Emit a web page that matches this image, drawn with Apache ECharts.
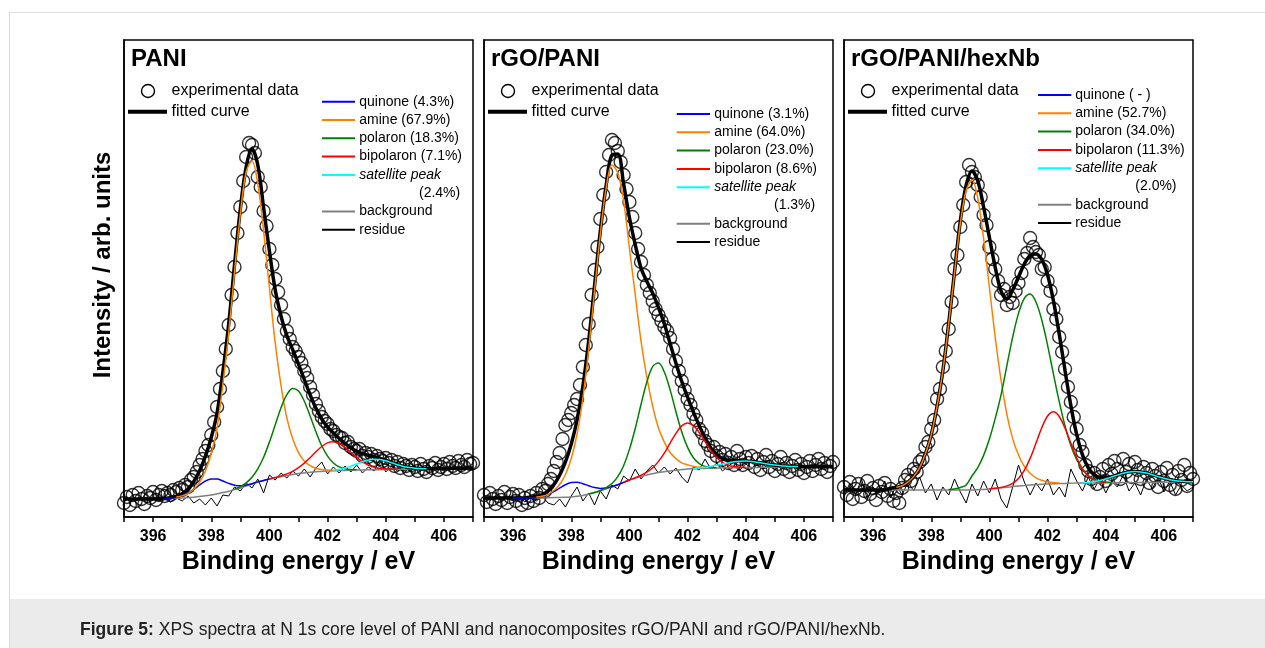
<!DOCTYPE html>
<html><head><meta charset="utf-8">
<script src="https://cdn.jsdelivr.net/npm/echarts@6/dist/echarts.min.js"></script>
<style>html,body{margin:0;padding:0;background:#fff;}#chart{width:1265px;height:648px;}</style>
</head><body><div id="chart"></div>
<script>
// ---------- DATA (intensity in arbitrary units, binding energy in eV) ----------
const energyFine = [
395.0,395.1,395.2,395.3,395.4,395.5,395.6,395.7,395.8,395.9,
396.0,396.1,396.2,396.3,396.4,396.5,396.6,396.7,396.8,396.9,
397.0,397.1,397.2,397.3,397.4,397.5,397.6,397.7,397.8,397.9,
398.0,398.1,398.2,398.3,398.4,398.5,398.6,398.7,398.8,398.9,
399.0,399.1,399.2,399.3,399.4,399.5,399.6,399.7,399.8,399.9,
400.0,400.1,400.2,400.3,400.4,400.5,400.6,400.7,400.8,400.9,
401.0,401.1,401.2,401.3,401.4,401.5,401.6,401.7,401.8,401.9,
402.0,402.1,402.2,402.3,402.4,402.5,402.6,402.7,402.8,402.9,
403.0,403.1,403.2,403.3,403.4,403.5,403.6,403.7,403.8,403.9,
404.0,404.1,404.2,404.3,404.4,404.5,404.6,404.7,404.8,404.9,
405.0,405.1,405.2,405.3,405.4,405.5,405.6,405.7,405.8,405.9,
406.0,406.1,406.2,406.3,406.4,406.5,406.6,406.7,406.8,406.9,
407.0];
const energyGrid = [
395.0,395.2,395.4,395.6,395.8,396.0,396.2,396.4,396.6,396.8,
397.0,397.2,397.4,397.6,397.8,398.0,398.2,398.4,398.6,398.8,
399.0,399.2,399.4,399.6,399.8,400.0,400.2,400.4,400.6,400.8,
401.0,401.2,401.4,401.6,401.8,402.0,402.2,402.4,402.6,402.8,
403.0,403.2,403.4,403.6,403.8,404.0,404.2,404.4,404.6,404.8,
405.0,405.2,405.4,405.6,405.8,406.0,406.2,406.4,406.6,406.8,407.0];
const xTickValues = [396, 398, 400, 402, 404, 406];

// ---- PANI ----
const paniExp = [
14,20,12,22,16,24,18,13,21,19,
25,17,22,26,21,24,22,27,25,29,
27,32,30,37,40,45,52,58,66,72,
82,95,110,128,146,168,192,222,250,284,
310,336,360,374,372,364,340,330,306,291,
268,252,238,225,212,198,186,178,170,166,
160,154,146,139,130,122,113,106,100,96,
93,88,86,82,80,79,74,75,70,68,
66,68,61,64,60,63,57,61,58,56,
59,54,57,51,55,49,53,51,47,52,
50,46,53,48,45,51,49,54,47,50,
53,48,55,51,49,56,52,50,57,53,
54];
const paniFit = [
18,18,18,18,18,18,18.2,18.5,19.5,20.8,
23.3,27.8,35.6,46.2,60.8,79.5,104,145,193,252,
308,350,368,352,309.3,266,227.1,200.8,181.3,167.4,
152.9,137.5,122.2,108.7,97.9,89.9,84,78.5,73.7,69.3,
65.6,63.3,61.7,60.3,58.7,56.7,54.5,52.3,50.6,49.5,
48.8,48.4,48.2,48.3,48.4,48.5,48.6,48.7,48.8,48.9,49];
const paniBackground = [
18,18,18,18,18,18,18.2,18.4,18.6,18.8,
19,19.4,19.8,20.4,21.2,22,23.2,24.4,25.8,27.4,
29,31,33,35,36.5,38,39.2,40.4,41.5,42.5,
43.5,44.1,44.7,45.2,45.6,46,46.2,46.4,46.6,46.8,
47,47.1,47.2,47.3,47.4,47.5,47.6,47.7,47.8,47.9,
48,48.1,48.2,48.3,48.4,48.5,48.6,48.7,48.8,48.9,49];
const paniResidue = [
17,19,16,20,17,19,16,20,15,19,
16,21,14,18,12,19,11,22,21,30,
26,34,29,38,24,42,37,44,39,46,
41,48,40,49,55,43,50,44,51,45,
52,44,50,46,58,45,51,46,50,47,
51,46,50,47,51,48,51,47,50,48,50];
const paniQuinone = [
null,null,null,null,null,null,null,18.5,18.9,19.7,
21.2,23.8,27.6,32,36,38,38,36,33.6,31.8,
31.2,31.9,33.3,35.1,36.6,38,null,null,null,null,
null,null,null,null,null,null,null,null,null,null,
null,null,null,null,null,null,null,null,null,null,
null,null,null,null,null,null,null,null,null,null,null];
const paniAmine = [
null,null,null,null,null,null,null,null,null,19.9,
21.1,23.4,27.8,34.6,46,63.5,89.2,133,184,245,
303,345,356,333.2,286.1,229,173.8,131.2,98.8,78.2,
64.4,56,51.3,48.7,47.4,46.9,46.6,null,null,null,
null,null,null,null,null,null,null,null,null,null,
null,null,null,null,null,null,null,null,null,null,null];
const paniPolaron = [
null,null,null,null,null,null,null,null,null,null,
null,null,null,null,null,null,null,null,null,27.9,
30.3,34.2,39.8,48.2,59.7,74.9,92.2,109.3,122.4,128.5,
126.1,115.8,101,85.2,71.2,60.9,54,50.1,48.2,47.4,
47.2,null,null,null,null,null,null,null,null,null,
null,null,null,null,null,null,null,null,null,null,null];
const paniBipolaron = [
null,null,null,null,null,null,null,null,null,null,
null,null,null,null,null,null,null,null,null,null,
null,null,null,null,null,38.1,39.5,41.1,43.1,45.7,
49.4,53.9,59.3,65.2,70.5,74.1,75.2,73.5,69.7,64.7,
59.6,55.2,51.9,49.8,48.6,48,47.8,47.7,null,null,
null,null,null,null,null,null,null,null,null,null,null];
const paniSatellite = [
null,null,null,null,null,null,null,null,null,null,
null,null,null,null,null,null,null,null,null,null,
null,null,null,null,null,null,null,null,null,null,
null,null,null,null,null,null,46.8,47.7,49,50.8,
53,55.2,57,57.8,57.5,56.2,54.3,52.3,50.6,49.5,
48.8,48.4,48.2,null,null,null,null,null,null,null,null];
const paniLegend = ['quinone (4.3%)','amine (67.9%)','polaron (18.3%)','bipolaron (7.1%)','satellite peak','(2.4%)','background','residue'];

// ---- rGO/PANI ----
const rgoExp = [
22,15,24,18,13,21,17,25,14,20,
23,16,22,12,19,14,21,16,24,19,
28,26,33,38,46,55,64,78,92,97,
104,112,118,132,150,172,193,222,247,270,
298,322,345,362,377,374,366,355,342,328,
315,300,284,268,255,242,232,224,216,208,
202,196,190,186,179,168,156,146,136,127,
118,112,103,97,88,84,76,72,66,70,
61,65,57,63,54,60,52,66,58,52,
60,54,61,50,58,47,55,62,50,56,
46,53,60,48,54,45,51,57,47,53,
44,50,56,46,52,58,48,54,45,51,
55];
const rgoFit = [
19,19,19,19,19,19,19,19.1,19.8,20.5,
22.3,25.9,32.4,41.8,55,73,97,130.7,176.3,231.1,
286.1,331.5,362,363,333.1,299.5,272.4,248.9,235.4,223.8,
209.4,193.2,173.3,153.8,135.5,119.8,104.9,91.4,79.1,69.1,
62.4,58.4,56.7,56.3,56.2,56.1,55.6,54.7,53.8,52.8,
52,51.2,50.8,50.5,50.4,50.2,50.3,50.3,50.4,50.4,50.5];
const rgoBackground = [
19,19,19,19,19,19,19,19,19,19,
19,19.2,19.4,19.6,19.8,20,20.8,21.6,23,24.4,
26,28,30,32.2,34.6,37,38.8,40.6,42,43.3,
44.5,45.3,46.1,46.8,47.4,48,48.2,48.4,48.6,48.8,
49,49.1,49.2,49.3,49.4,49.5,49.6,49.6,49.7,49.8,
50,50,50.1,50.1,50.2,50.2,50.3,50.3,50.4,50.4,50.5];
const rgoResidue = [
20,17,21,16,20,18,22,15,19,16,
21,14,12,18,10,21,30,16,24,12,
26,18,32,28,41,36,48,38,46,52,
44,50,43,49,40,34,50,47,58,48,
54,46,51,55,47,53,49,52,48,53,
47,52,49,53,48,51,49,52,48,51,50];
const rgoQuinone = [
null,null,null,null,null,19,19,19.1,19.2,19.6,
20.5,22.4,25.3,28.9,32.3,34.4,34.8,33.3,31.3,29.4,
28.6,29.1,30.4,32.3,34.6,37,null,null,null,null,
null,null,null,null,null,null,null,null,null,null,
null,null,null,null,null,null,null,null,null,null,
null,null,null,null,null,null,null,null,null,null,null];
const rgoAmine = [
null,null,null,null,null,null,null,null,null,19.9,
20.8,22.7,26.5,32.5,42.5,58.5,83,119,168,226,
283,329,352,344.2,316.4,268.8,222.3,175.6,139.6,110.9,
88.9,74.9,64.5,58.4,54.2,52.2,50.5,49.7,49.2,null,
null,null,null,null,null,null,null,null,null,null,
null,null,null,null,null,null,null,null,null,null,null];
const rgoPolaron = [
null,null,null,null,null,null,null,null,null,null,
null,null,null,null,null,null,null,null,23,24.5,
26.5,29.4,33.5,40.3,51.3,67.6,88.5,112.7,135,150.3,
153.9,145,127.1,105.3,85,69.6,59.2,53.4,50.6,49.5,
49.2,null,null,null,null,null,null,null,null,null,
null,null,null,null,null,null,null,null,null,null,null];
const rgoBipolaron = [
null,null,null,null,null,null,null,null,null,null,
null,null,null,null,null,null,null,null,null,null,
null,null,null,null,34.6,37.1,39.2,41.8,44.8,49.2,
55.6,63.9,73.9,83.7,91.1,94,91.3,84.5,75.4,66.6,
59.5,54.6,51.8,50.4,49.8,49.6,null,null,null,null,
null,null,null,null,null,null,null,null,null,null,null];
const rgoSatellite = [
null,null,null,null,null,null,null,null,null,null,
null,null,null,null,null,null,null,null,null,null,
null,null,null,null,null,null,null,null,null,null,
null,null,null,null,null,null,48.5,49,49.7,50.6,
51.7,52.9,54.1,55.2,55.8,56,55.6,54.7,53.8,52.8,
52,51.2,50.8,50.5,50.4,null,null,null,null,null,null];
const rgoLegend = ['quinone (3.1%)','amine (64.0%)','polaron (23.0%)','bipolaron (8.6%)','satellite peak','(1.3%)','background','residue'];

// ---- rGO/PANI/hexNb ----
const hexExp = [
30,22,35,18,28,33,20,26,36,23,
29,17,31,25,34,21,28,16,24,14,
29,37,42,36,48,45,55,58,70,75,
88,97,118,128,150,166,188,215,248,262,
290,312,335,352,345,340,332,320,302,292,
270,258,248,236,222,228,212,220,214,226,
234,244,258,264,279,270,265,262,248,250,
236,226,208,198,180,165,148,130,115,100,
88,72,65,52,46,38,44,33,40,48,
36,52,43,56,48,38,58,45,53,40,
55,47,38,50,44,34,48,41,30,45,
36,49,32,42,28,46,37,52,31,44,
38];
const hexFit = [
27,27,27,27,27,27,27,27,28.6,29.8,
31.3,35,40.6,49.3,63.3,82.2,110.7,146.4,193.7,245.1,
296.1,331.5,346,336,310,279.5,249.7,226,218,227,
240,253,261.4,263.1,257.5,241.9,216.4,183.1,146.4,111.4,
82.6,62.1,49.2,42.4,39.6,39.4,40.3,41.9,43.7,45,
45.5,45.1,43.9,42.2,40.4,38.7,37.3,36.3,35.7,35.3,35.2];
const hexBackground = [
27,27,27,27,27,27,27,27,27,27,
27,27,27,27,27,27,27,27,27,27,
27,27,27,27.3,27.6,28,28.6,29.2,29.8,30.4,
31,31.5,32,32.4,32.8,33,33.2,33.4,33.6,33.8,
34,34,34,34.1,34.1,34.2,34.3,34.3,34.4,34.4,
34.5,34.5,34.6,34.6,34.7,34.7,34.8,34.8,34.9,34.9,35];
const hexResidue = [
20,34,22,38,18,30,24,36,19,32,
22,35,26,40,24,33,17,30,22,38,
25,14,33,21,36,24,38,18,9,30,
52,35,22,34,26,38,22,30,20,48,
36,26,40,28,38,24,36,30,42,26,
34,22,38,28,40,25,36,22,32,26,30];
const hexQuinone = [];
const hexAmine = [
null,null,null,null,null,null,null,null,null,29.8,
31.3,35,40.6,49.3,63.3,82.2,110.7,146.4,193.2,244,
293.6,326.5,337,318.7,278.6,229.5,179.6,136.8,102.7,78.4,
62,50.7,43.8,39.2,36.8,35.2,34.4,34,null,null,
null,null,null,null,null,null,null,null,null,null,
null,null,null,null,null,null,null,null,null,null,null];
const hexPolaron = [
null,null,null,null,null,null,null,null,null,null,
null,null,null,null,null,null,null,null,27.5,28.1,
29.5,32,41,49.3,61.6,78,98.6,122.2,151.4,179.9,
203.6,218.7,223,215,197,171.7,143.2,115.4,91,71.6,
57.3,47.6,41.4,37.9,35.9,35,34.6,null,null,null,
null,null,null,null,null,null,null,null,null,null,null];
const hexBipolaron = [
null,null,null,null,null,null,null,null,null,null,
null,null,null,null,null,null,null,null,null,null,
null,null,null,null,null,28,28.7,29.6,31.1,33.7,
38.5,46.6,58.6,73.7,89.3,101,105.2,100.5,88.7,73.6,
59.3,48.1,41,37.1,35.3,34.6,null,null,null,null,
null,null,null,null,null,null,null,null,null,null,null];
const hexSatellite = [
null,null,null,null,null,null,null,null,null,null,
null,null,null,null,null,null,null,null,null,null,
null,null,null,null,null,null,null,null,null,null,
null,null,null,null,null,null,null,null,null,null,
null,34.4,34.8,35.6,36.6,38.2,40,41.9,43.7,45,
45.5,45.1,43.9,42.2,40.4,38.7,37.3,36.3,35.7,35.3,35.2];
const hexLegend = ['quinone ( - )','amine (52.7%)','polaron (34.0%)','bipolaron (11.3%)','satellite peak','(2.0%)','background','residue'];

const panelTitles = ['PANI', 'rGO/PANI', 'rGO/PANI/hexNb'];
const xAxisTitle = 'Binding energy / eV';
const yAxisTitle = 'Intensity / arb. units';
const legendExp = 'experimental data';
const legendFit = 'fitted curve';
const captionBold = 'Figure 5:';
const captionText = ' XPS spectra at N 1s core level of PANI and nanocomposites rGO/PANI and rGO/PANI/hexNb.';

// ---------- LAYOUT / STYLE ----------
const FONT = '"Liberation Sans", Arial, Helvetica, sans-serif';
const compColors = ['#0000ff', '#ff8000', '#008000', '#ff0000', '#00ffff'];
const bgColor = '#808080';
const layout = [
  {left: 124, legLine: [198, 231], legText: 235.3, pctX: 295, legY0: 101.7},
  {left: 484, legLine: [192.7, 226], legText: 230.3, pctX: 290, legY0: 114},
  {left: 844, legLine: [194, 227.3], legText: 231.3, pctX: 291.3, legY0: 95}
];
const plotTop = 40, plotW = 349, plotH = 477, legStep = 18.3;

const panelData = [
  {exp: paniExp, fit: paniFit, bg: paniBackground, res: paniResidue, comps: [paniQuinone, paniAmine, paniPolaron, paniBipolaron, paniSatellite], legend: paniLegend},
  {exp: rgoExp, fit: rgoFit, bg: rgoBackground, res: rgoResidue, comps: [rgoQuinone, rgoAmine, rgoPolaron, rgoBipolaron, rgoSatellite], legend: rgoLegend},
  {exp: hexExp, fit: hexFit, bg: hexBackground, res: hexResidue, comps: [hexQuinone, hexAmine, hexPolaron, hexBipolaron, hexSatellite], legend: hexLegend}
];

function pairs(xs, ys) {
  const out = [];
  for (let i = 0; i < ys.length; i++) if (ys[i] !== null && ys[i] !== undefined) out.push([xs[i], ys[i]]);
  return out;
}

const grids = [], xAxes = [], yAxes = [], series = [], graphics = [];

// figure frame and caption band
graphics.push({type: 'rect', shape: {x: 9.5, y: 12.5, width: 1270, height: 650}, style: {fill: 'none', stroke: '#dcdcdc', lineWidth: 1}, z: 0});
graphics.push({type: 'rect', shape: {x: 10, y: 599, width: 1260, height: 60}, style: {fill: '#ebebeb'}, z: 0});
graphics.push({type: 'text', x: 80, y: 630, style: {text: '{b|' + captionBold + '}' + captionText, font: '17.5px ' + FONT, fill: '#222', verticalAlign: 'middle', rich: {b: {fontWeight: 'bold', fontSize: 17.5, fontFamily: FONT, fill: '#222'}}}, z: 5});
graphics.push({type: 'text', x: 103, y: 265, rotation: Math.PI / 2, style: {text: yAxisTitle, font: 'bold 24px ' + FONT, fill: '#000', align: 'center', verticalAlign: 'middle'}, z: 5});

panelData.forEach((p, i) => {
  const L = layout[i].left;
  grids.push({left: L, top: plotTop, width: plotW, height: plotH, show: true, borderColor: '#000', borderWidth: 1.5, backgroundColor: 'transparent'});
  xAxes.push({
    gridIndex: i, type: 'value', min: 395, max: 407, interval: 1,
    axisLine: {show: true, onZero: false, lineStyle: {color: '#000', width: 1.5}},
    axisTick: {show: true, length: 5, lineStyle: {color: '#000', width: 1.5}},
    splitLine: {show: false},
    axisLabel: {color: '#000', fontFamily: FONT, fontWeight: 'bold', fontSize: 16, margin: 12,
      formatter: v => (xTickValues.indexOf(v) >= 0 ? String(v) : '')},
    name: xAxisTitle, nameLocation: 'middle', nameGap: 33,
    nameTextStyle: {color: '#000', fontFamily: FONT, fontWeight: 'bold', fontSize: 25}
  });
  yAxes.push({gridIndex: i, type: 'value', min: 0, max: 477,
    axisLine: {show: true, onZero: false, lineStyle: {color: '#000', width: 1.5}},
    axisTick: {show: false}, axisLabel: {show: false}, splitLine: {show: false}});

  series.push({type: 'scatter', xAxisIndex: i, yAxisIndex: i, data: pairs(energyFine, p.exp),
    symbol: 'circle', symbolSize: 13, itemStyle: {color: 'rgba(0,0,0,0)', borderColor: '#000', borderWidth: 1.4}, z: 2, silent: true});
  series.push({type: 'line', xAxisIndex: i, yAxisIndex: i, data: pairs(energyGrid, p.res), showSymbol: false,
    lineStyle: {color: '#000', width: 1}, z: 3, silent: true});
  series.push({type: 'line', xAxisIndex: i, yAxisIndex: i, data: pairs(energyGrid, p.bg), showSymbol: false, smooth: 0.3,
    lineStyle: {color: bgColor, width: 1.5}, z: 3, silent: true});
  series.push({type: 'line', xAxisIndex: i, yAxisIndex: i, data: pairs(energyGrid, p.fit), showSymbol: false, smooth: 0.35,
    lineStyle: {color: '#000', width: 3.5}, z: 4, silent: true});
  p.comps.forEach((c, k) => {
    if (!c.length) return;
    series.push({type: 'line', xAxisIndex: i, yAxisIndex: i, data: pairs(energyGrid, c), showSymbol: false, smooth: 0.35,
      lineStyle: {color: compColors[k], width: 1.5}, z: 5, silent: true});
  });

  // panel title & legends
  graphics.push({type: 'text', x: L + 7, y: 59.5, style: {text: panelTitles[i], font: 'bold 24px ' + FONT, fill: '#000', verticalAlign: 'middle'}, z: 10});
  graphics.push({type: 'circle', shape: {cx: L + 24, cy: 91, r: 6.5}, style: {fill: 'none', stroke: '#000', lineWidth: 1.4}, z: 10});
  graphics.push({type: 'text', x: L + 47.5, y: 91, style: {text: legendExp, font: '16px ' + FONT, fill: '#000', verticalAlign: 'middle'}, z: 10});
  graphics.push({type: 'line', shape: {x1: L + 4, y1: 111.7, x2: L + 43, y2: 111.7}, style: {stroke: '#000', lineWidth: 4}, z: 10});
  graphics.push({type: 'text', x: L + 47.5, y: 111.7, style: {text: legendFit, font: '16px ' + FONT, fill: '#000', verticalAlign: 'middle'}, z: 10});

  const lc = [compColors[0], compColors[1], compColors[2], compColors[3], compColors[4], null, bgColor, '#000'];
  p.legend.forEach((txt, k) => {
    const y = layout[i].legY0 + k * legStep;
    if (lc[k]) {
      graphics.push({type: 'line', shape: {x1: L + layout[i].legLine[0], y1: y, x2: L + layout[i].legLine[1], y2: y}, style: {stroke: lc[k], lineWidth: 2}, z: 10});
      graphics.push({type: 'text', x: L + layout[i].legText, y: y, style: {text: txt, font: (k === 4 ? 'italic ' : '') + '14px ' + FONT, fill: '#000', verticalAlign: 'middle'}, z: 10});
    } else {
      graphics.push({type: 'text', x: L + layout[i].pctX, y: y, style: {text: txt, font: '14px ' + FONT, fill: '#000', verticalAlign: 'middle'}, z: 10});
    }
  });
});

const chart = echarts.init(document.getElementById('chart'), null, {renderer: 'canvas'});
chart.setOption({
  animation: false,
  backgroundColor: '#fff',
  grid: grids, xAxis: xAxes, yAxis: yAxes, series: series,
  graphic: {elements: graphics}
});
</script>
</body></html>
